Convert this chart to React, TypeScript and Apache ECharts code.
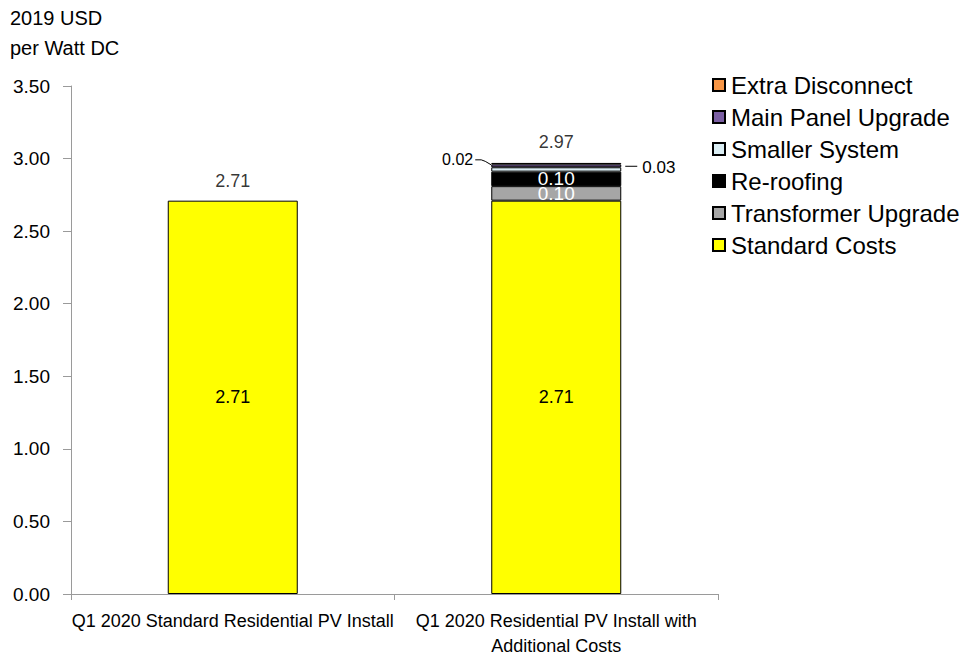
import React, { useEffect, useRef } from "react";
import * as echarts from "echarts";

// Installed-cost categories
const categories = [
  "Q1 2020 Standard Residential PV Install",
  "Q1 2020 Residential PV Install with\nAdditional Costs",
];

// Stacked cost components, 2019 USD per Watt DC (bottom to top)
const standardCosts = [2.71, 2.71];
const transformerUpgrade = [null, 0.1];
const reRoofing = [null, 0.1];
const smallerSystem = [null, 0.03];
const mainPanelUpgrade = [null, 0.02];
const extraDisconnect = [null, 0.01];

// Value axis
const yMin = 0;
const yMax = 3.5;
const yStep = 0.5;

const FONT = "'Liberation Sans', Arial, sans-serif";
const BAR_WIDTH = 130;

const stackParts = [
  standardCosts,
  transformerUpgrade,
  reRoofing,
  smallerSystem,
  mainPanelUpgrade,
  extraDisconnect,
];

const totals = categories.map((_, i) =>
  stackParts.reduce((s, arr) => s + (arr[i] ?? 0), 0)
);

const fmt2 = (v: number) => Number(v).toFixed(2);

export default function App() {
  const ref = useRef<HTMLDivElement>(null);

  useEffect(() => {
    if (!ref.current) return;
    const chart = echarts.init(ref.current, undefined, { renderer: "svg" });

    const barBase = {
      type: "bar" as const,
      stack: "cost",
      barWidth: BAR_WIDTH,
    };

    const option: any = {
      animation: false,
      textStyle: { fontFamily: FONT },
      title: {
        text: "2019 USD\nper Watt DC",
        left: 10,
        top: 3,
        padding: 0,
        textStyle: {
          fontFamily: FONT,
          fontSize: 20,
          fontWeight: "normal",
          color: "#000",
          lineHeight: 30,
        },
      },
      legend: {
        orient: "vertical",
        left: 707,
        top: 68,
        itemWidth: 12,
        itemHeight: 12,
        itemGap: 8,
        icon: "rect",
        data: [
          "Extra Disconnect",
          "Main Panel Upgrade",
          "Smaller System",
          "Re-roofing",
          "Transformer Upgrade",
          "Standard Costs",
        ],
        textStyle: { fontFamily: FONT, fontSize: 24, color: "#000", padding: [0, 0, 0, 1] },
      },
      grid: {
        left: 71,
        right: 242,
        top: 86,
        bottom: 61,
        containLabel: false,
        outerBoundsMode: "none",
      },
      xAxis: {
        type: "category",
        data: categories,
        axisLine: { show: true, lineStyle: { color: "#9a9a9a", width: 1 } },
        axisTick: { show: true, length: 6, interval: 0, lineStyle: { color: "#9a9a9a" } },
        axisLabel: {
          interval: 0,
          margin: 14,
          fontFamily: FONT,
          fontSize: 18,
          lineHeight: 25,
          color: "#000",
        },
        splitLine: { show: false },
      },
      yAxis: {
        type: "value",
        min: yMin,
        max: yMax,
        interval: yStep,
        axisLine: { show: true, lineStyle: { color: "#9a9a9a", width: 1 } },
        axisTick: { show: true, length: 8, lineStyle: { color: "#9a9a9a" } },
        axisLabel: {
          margin: 21,
          fontFamily: FONT,
          fontSize: 19,
          color: "#000",
          formatter: (v: number) => fmt2(v),
        },
        splitLine: { show: false },
      },
      series: [
        {
          ...barBase,
          name: "Standard Costs",
          data: standardCosts,
          itemStyle: { color: "#FFFF00", borderColor: "#000", borderWidth: 1 },
          label: {
            show: true,
            position: "inside",
            fontFamily: FONT,
            fontSize: 18,
            color: "#000",
            formatter: (p: any) => fmt2(p.value),
          },
        },
        {
          ...barBase,
          name: "Transformer Upgrade",
          data: transformerUpgrade,
          itemStyle: { color: "#A6A6A6", borderColor: "#000", borderWidth: 1 },
          label: {
            show: true,
            position: "inside",
            fontFamily: FONT,
            fontSize: 19,
            color: "#fff",
            formatter: (p: any) => fmt2(p.value),
          },
        },
        {
          ...barBase,
          name: "Re-roofing",
          data: reRoofing,
          itemStyle: { color: "#000000", borderColor: "#000", borderWidth: 1 },
          label: {
            show: true,
            position: "inside",
            fontFamily: FONT,
            fontSize: 19,
            color: "#fff",
            formatter: (p: any) => fmt2(p.value),
          },
        },
        {
          ...barBase,
          name: "Smaller System",
          data: smallerSystem,
          itemStyle: { color: "#DBEEF4", borderColor: "#000", borderWidth: 1 },
          label: {
            show: true,
            position: "right",
            distance: 21,
            offset: [0, -2],
            fontFamily: FONT,
            fontSize: 17,
            color: "#000",
            formatter: (p: any) => fmt2(p.value),
          },
        },
        {
          ...barBase,
          name: "Main Panel Upgrade",
          data: mainPanelUpgrade,
          itemStyle: { color: "#7B5FA3", borderColor: "#000", borderWidth: 1 },
          label: {
            show: true,
            position: "left",
            distance: 18,
            offset: [0, -6],
            fontFamily: FONT,
            fontSize: 16,
            color: "#000",
            formatter: (p: any) => fmt2(p.value),
          },
        },
        {
          ...barBase,
          name: "Extra Disconnect",
          data: extraDisconnect,
          itemStyle: { color: "#F79646", borderColor: "#000", borderWidth: 1 },
        },
        {
          type: "scatter",
          name: "Total",
          symbol: "rect",
          symbolSize: 1,
          itemStyle: { color: "rgba(0,0,0,0)" },
          silent: true,
          data: totals.map((t, i) => ({
            value: [i, t],
            label: { distance: i === 0 ? 10 : 11 },
          })),
          label: {
            show: true,
            position: "top",
            fontFamily: FONT,
            fontSize: 18,
            color: "#000",
            formatter: (p: any) => fmt2(p.value[1]),
          },
        },
      ],
    };

    chart.setOption(option);

    // Leader lines for the two thin segments on the second bar
    const i = 1;
    const smallerTop =
      (standardCosts[i] ?? 0) + (transformerUpgrade[i] ?? 0) + (reRoofing[i] ?? 0) + (smallerSystem[i] ?? 0);
    const mainTop = smallerTop + (mainPanelUpgrade[i] ?? 0);
    const mainMid = smallerTop + (mainPanelUpgrade[i] ?? 0) / 2;
    const pMain = chart.convertToPixel({ gridIndex: 0 }, [i, mainTop]) as number[];
    const pMainMid = chart.convertToPixel({ gridIndex: 0 }, [i, mainMid]) as number[];
    const pSmall = chart.convertToPixel({ gridIndex: 0 }, [i, smallerTop]) as number[];
    const barLeft = pMain[0] - BAR_WIDTH / 2;
    const barRight = pMain[0] + BAR_WIDTH / 2;
    const leftY = pMainMid[1] - 6;

    chart.setOption({
      graphic: [
        {
          type: "polyline",
          silent: true,
          shape: {
            points: [
              [barLeft - 16, leftY],
              [barLeft - 10, leftY],
              [barLeft - 6, leftY + 1.5],
              [barLeft, pMain[1] + 0.5],
            ],
          },
          style: { stroke: "#000", lineWidth: 1, fill: "none" },
        },
        {
          type: "line",
          silent: true,
          shape: { x1: barRight + 4, y1: pSmall[1] - 1, x2: barRight + 16, y2: pSmall[1] - 1 },
          style: { stroke: "#000", lineWidth: 1 },
        },
      ],
    });

    return () => chart.dispose();
  }, []);

  return (
    <div
      ref={ref}
      style={{ position: "absolute", left: 0, top: 0, width: 960, height: 655, background: "#fff" }}
    />
  );
}
